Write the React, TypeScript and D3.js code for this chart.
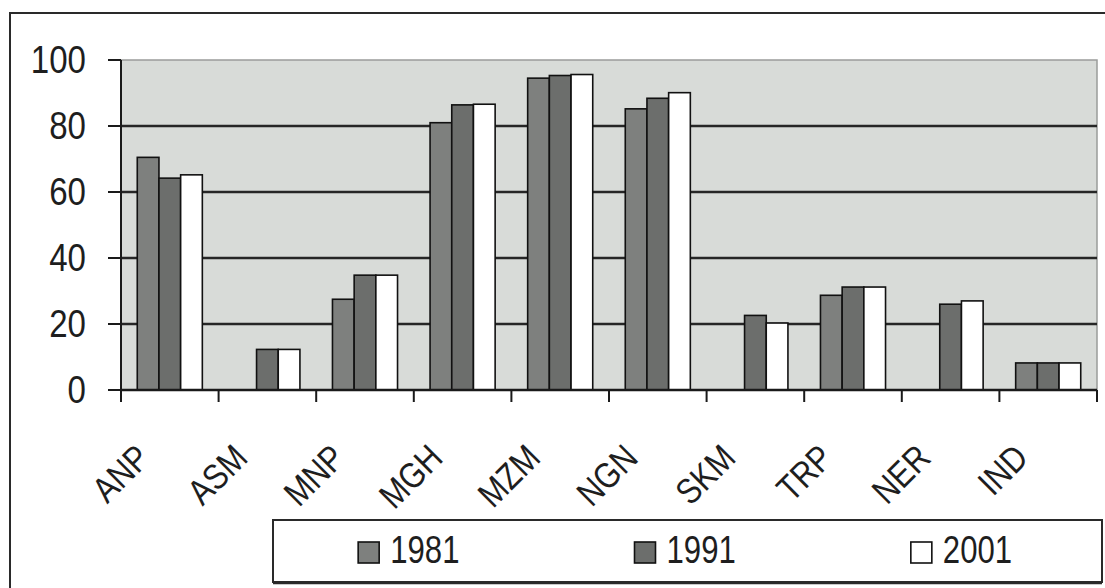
import React from "react";
import * as d3 from "d3";

const categories = ["ANP", "ASM", "MNP", "MGH", "MZM", "NGN", "SKM", "TRP", "NER", "IND"];
const seriesNames = ["1981", "1991", "2001"];
const values1981: (number | null)[] = [70.5, null, 27.5, 81, 94.5, 85.2, null, 28.7, null, 8.2];
const values1991: (number | null)[] = [64.2, 12.3, 34.8, 86.4, 95.3, 88.4, 22.6, 31.2, 26, 8.2];
const values2001: (number | null)[] = [65.2, 12.3, 34.8, 86.6, 95.6, 90.1, 20.3, 31.2, 27, 8.2];
const yTicks = [0, 20, 40, 60, 80, 100];

const seriesValues = [values1981, values1991, values2001];
const seriesFill = ["#7e807e", "#6c6e6c", "#ffffff"];

const W = 1105;
const H = 588;
const plot = { left: 121, right: 1097, top: 60, bottom: 390 };
const FONT = "'Liberation Sans', Arial, Helvetica, sans-serif";
const INK = "#1e1e1e";

export default function App() {
  const x = d3.scaleBand<string>().domain(categories).range([plot.left, plot.right]).paddingInner(0).paddingOuter(0);
  const xs = d3.scaleBand<string>().domain(seriesNames).range([0, x.bandwidth()]).paddingInner(0).paddingOuter(0.75);
  const y = d3.scaleLinear().domain([0, 100]).range([plot.bottom, plot.top]);
  const boundaries = d3.range(categories.length + 1).map((i) => plot.left + i * x.step());

  const legend = { x: 273, y: 520, w: 829, h: 62 };

  return (
    <svg width={W} height={H} style={{ position: "absolute", left: 0, top: 0, background: "#fff" }}>
      {/* outer frame */}
      <rect x={10} y={13} width={1300} height={800} fill="none" stroke="#2a2a2a" strokeWidth={2} />

      {/* plot area */}
      <rect x={plot.left} y={plot.top} width={plot.right - plot.left} height={plot.bottom - plot.top} fill="#d8dbd8" stroke="#9a9c9a" strokeWidth={1.5} />

      {/* gridlines */}
      {yTicks.filter((t) => t > 0 && t < 100).map((t) => (
        <line key={"g" + t} x1={plot.left} x2={plot.right} y1={y(t)} y2={y(t)} stroke="#262626" strokeWidth={2.5} />
      ))}

      {/* bars */}
      {seriesValues.map((vals, si) =>
        vals.map((v, ci) =>
          v == null ? null : (
            <rect
              key={`b${si}-${ci}`}
              x={(x(categories[ci]) as number) + (xs(seriesNames[si]) as number)}
              y={y(v)}
              width={xs.bandwidth()}
              height={y(0) - y(v)}
              fill={seriesFill[si]}
              stroke="#111"
              strokeWidth={1.6}
            />
          )
        )
      )}

      {/* y axis */}
      <line x1={plot.left} x2={plot.left} y1={plot.top} y2={plot.bottom + 12} stroke="#1a1a1a" strokeWidth={2} />
      {yTicks.map((t) => (
        <g key={"yt" + t}>
          <line x1={plot.left - 13} x2={plot.left} y1={y(t)} y2={y(t)} stroke="#1a1a1a" strokeWidth={2} />
          <text
            transform={`translate(86, ${y(t)}) scale(0.87,1)`}
            textAnchor="end"
            dominantBaseline="central"
            fontFamily={FONT}
            fontSize={38}
            fill={INK}
          >
            {t}
          </text>
        </g>
      ))}

      {/* x axis */}
      <line x1={plot.left} x2={plot.right} y1={plot.bottom} y2={plot.bottom} stroke="#1a1a1a" strokeWidth={2.5} />
      {boundaries.map((bx, i) => (
        <line key={"xt" + i} x1={bx} x2={bx} y1={plot.bottom} y2={plot.bottom + 12} stroke="#1a1a1a" strokeWidth={2} />
      ))}
      {categories.map((c) => {
        const cx = (x(c) as number) + x.bandwidth() / 2;
        return (
          <text
            key={"xl" + c}
            transform={`translate(${cx - 18}, 460) rotate(-45) scale(0.85,1)`}
            textAnchor="end"
            fontFamily={FONT}
            fontSize={36}
            fill={INK}
          >
            {c}
          </text>
        );
      })}

      {/* legend */}
      <rect x={legend.x} y={legend.y} width={legend.w} height={legend.h} fill="#fff" stroke="#2a2a2a" strokeWidth={2} />
      <line x1={legend.x} x2={legend.x + legend.w} y1={legend.y + legend.h + 1.5} y2={legend.y + legend.h + 1.5} stroke="#2a2a2a" strokeWidth={1.5} />
      {seriesNames.map((s, i) => {
        const center = legend.x + (legend.w * (i + 0.5)) / 3;
        const start = center - 53;
        return (
          <g key={"lg" + s}>
            <rect x={start} y={542} width={21} height={21} fill={seriesFill[i]} stroke="#111" strokeWidth={1.6} />
            <text
              transform={`translate(${start + 32}, 563) scale(0.82,1)`}
              fontFamily={FONT}
              fontSize={38}
              fill={INK}
            >
              {s}
            </text>
          </g>
        );
      })}
    </svg>
  );
}
